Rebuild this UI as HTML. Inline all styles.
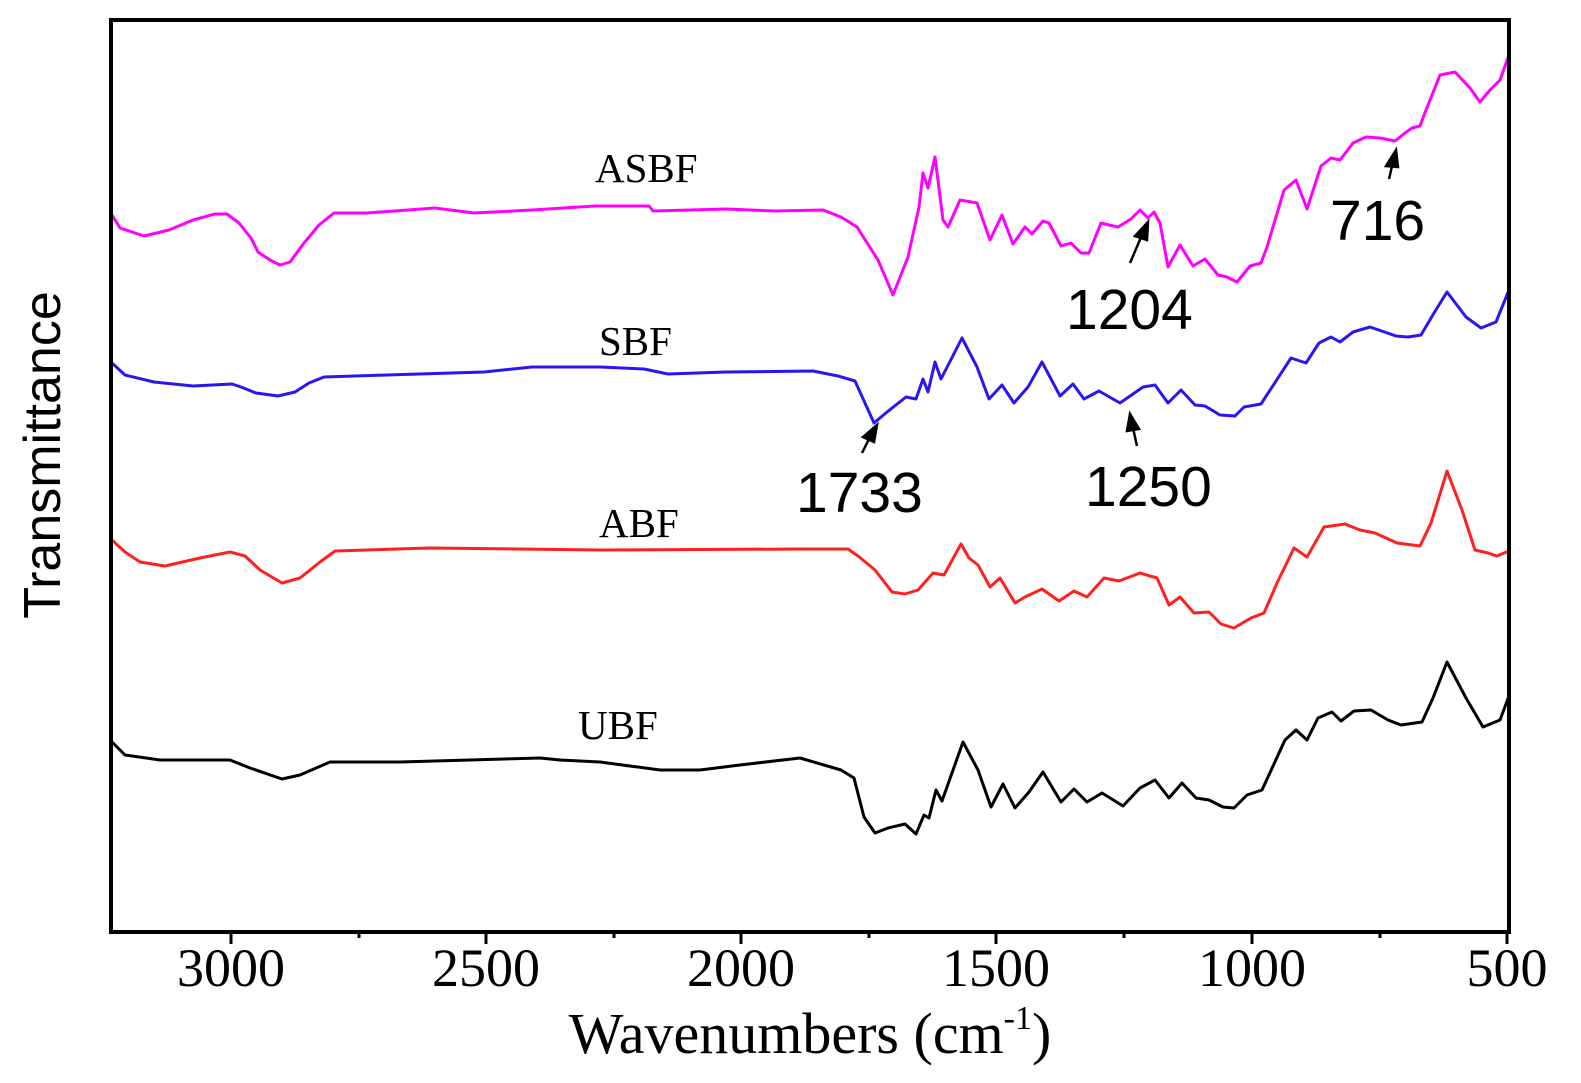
<!DOCTYPE html>
<html><head><meta charset="utf-8"><style>body{margin:0;background:#fff}svg{display:block}</style></head><body>
<svg width="1581" height="1083" viewBox="0 0 1581 1083" xmlns="http://www.w3.org/2000/svg">
<rect width="1581" height="1083" fill="#fff"/>
<g fill="none" stroke-width="3" stroke-linejoin="round">
<polyline stroke="#ff00ff" points="112,215 120,228 144,236 169,230 193,220 215,214 227,214 239,223 251,238 258,252 270,260 280,265 290,262 304,243 319,225 334,213 367,213 435,208 474,213 532,210 595,206 649,206 653,211 726,209 775,211 823,210 841,217 857,227 878,260 893,295 908,257 919,207 923,173 928,188 935,157 943,220 948,227 960,200 977,203 990,240 1002,215 1013,244 1025,227 1032,234 1043,221 1049,223 1061,246 1071,243 1081,253 1089,253 1101,223 1109,225 1118,227 1131,219 1140,210 1148,218 1154,212 1160,223 1168,267 1180,245 1193,266 1205,259 1218,275 1227,277 1237,282 1250,266 1261,263 1267,247 1284,190 1296,180 1307,209 1321,166 1331,158 1340,160 1353,143 1366,137 1380,138 1395,141 1405,133 1412,128 1420,126 1426,110 1440,75 1455,72 1470,88 1480,102 1490,90 1500,80 1509,55"/>
<polyline stroke="#2a16f0" points="112,363 125,375 154,382 193,386 232,384 241,387 256,393 278,396 295,392 309,383 324,377 387,375 484,372 532,367 600,367 644,369 668,374 726,372 813,371 838,376 855,381 874,423 887,412 906,397 916,399 923,379 928,392 935,362 941,379 962,338 977,367 989,399 1002,385 1014,403 1028,387 1042,362 1060,396 1073,384 1084,399 1099,391 1120,403 1143,387 1155,385 1168,403 1181,390 1195,405 1205,406 1220,415 1235,416 1244,407 1261,404 1291,358 1306,363 1319,343 1331,337 1340,342 1353,332 1370,327 1396,336 1408,337 1421,335 1434,313 1447,292 1466,317 1481,328 1496,322 1509,290"/>
<polyline stroke="#ff2020" points="112,540 125,552 140,562 165,566 200,558 230,552 245,556 260,570 282,583 300,578 320,562 335,551 430,548 600,550 800,549 848,549 858,556 875,570 892,592 905,594 918,590 933,573 944,575 961,544 969,558 978,565 990,587 1000,578 1015,603 1025,597 1042,589 1059,601 1074,591 1087,597 1104,578 1119,581 1140,573 1157,578 1169,605 1180,597 1194,613 1209,612 1221,624 1234,628 1251,618 1264,613 1277,583 1294,548 1307,557 1324,527 1345,524 1360,530 1375,533 1397,543 1420,546 1431,523 1447,471 1462,510 1475,550 1488,553 1497,556 1509,551"/>
<polyline stroke="#000" points="112,742 125,755 160,760 230,760 250,768 282,779 300,775 330,762 400,762 540,758 560,760 600,762 660,770 700,770 740,765 800,758 841,770 854,778 864,817 875,833 888,828 905,824 916,834 924,815 929,818 936,790 942,801 963,742 978,770 991,807 1003,784 1015,808 1029,792 1043,772 1061,802 1074,789 1087,802 1102,793 1123,806 1140,788 1155,780 1169,798 1182,783 1196,798 1209,800 1223,807 1234,808 1247,795 1262,790 1285,740 1296,730 1307,740 1318,718 1332,712 1341,721 1354,711 1371,710 1388,720 1401,725 1422,722 1433,698 1447,662 1466,698 1483,727 1500,720 1509,696"/>
</g>
<g stroke="#000" stroke-width="2.5" fill="#000">
<line x1="1130" y1="263" x2="1142" y2="235"/><polygon points="1148,222 1135,236 1147,240"/>
<line x1="1389" y1="179" x2="1393" y2="162"/><polygon points="1396,150 1386,166 1398,167"/>
<line x1="862" y1="453" x2="870" y2="437"/><polygon points="877,425 863,437 874,442"/>
<line x1="1137" y1="446" x2="1133" y2="428"/><polygon points="1130,414 1127,431 1139,429"/>
</g>
<rect x="111" y="20" width="1398" height="912" fill="none" stroke="#000" stroke-width="4"/>
<g stroke="#000" stroke-width="3">
<line x1="231" y1="932" x2="231" y2="944"/><line x1="486" y1="932" x2="486" y2="944"/><line x1="741" y1="932" x2="741" y2="944"/><line x1="996" y1="932" x2="996" y2="944"/><line x1="1252" y1="932" x2="1252" y2="944"/><line x1="1507" y1="932" x2="1507" y2="944"/>
<line x1="359" y1="932" x2="359" y2="938"/><line x1="614" y1="932" x2="614" y2="938"/><line x1="869" y1="932" x2="869" y2="938"/><line x1="1124" y1="932" x2="1124" y2="938"/><line x1="1380" y1="932" x2="1380" y2="938"/>
</g>
<g font-family="Liberation Serif, serif" font-size="54" text-anchor="middle" fill="#000">
<text x="231" y="986">3000</text><text x="486" y="986">2500</text><text x="741" y="986">2000</text><text x="996" y="986">1500</text><text x="1252" y="986">1000</text><text x="1507" y="986">500</text>
</g>
<text x="810" y="1053" font-family="Liberation Serif, serif" font-size="58" text-anchor="middle">Wavenumbers (cm<tspan font-size="34" dy="-24">-1</tspan><tspan dy="24">)</tspan></text>
<text transform="translate(60,455) rotate(-90)" font-family="Liberation Sans, sans-serif" font-size="52" text-anchor="middle">Transmittance</text>
<g font-family="Liberation Serif, serif" font-size="41" fill="#000">
<text x="595" y="182">ASBF</text><text x="599" y="355">SBF</text><text x="599" y="537">ABF</text><text x="578" y="739">UBF</text>
</g>
<g font-family="Liberation Sans, sans-serif" font-size="57" fill="#000">
<text x="1330" y="240">716</text><text x="1066" y="329">1204</text><text x="796" y="512">1733</text><text x="1085" y="506">1250</text>
</g>
</svg>
</body></html>
